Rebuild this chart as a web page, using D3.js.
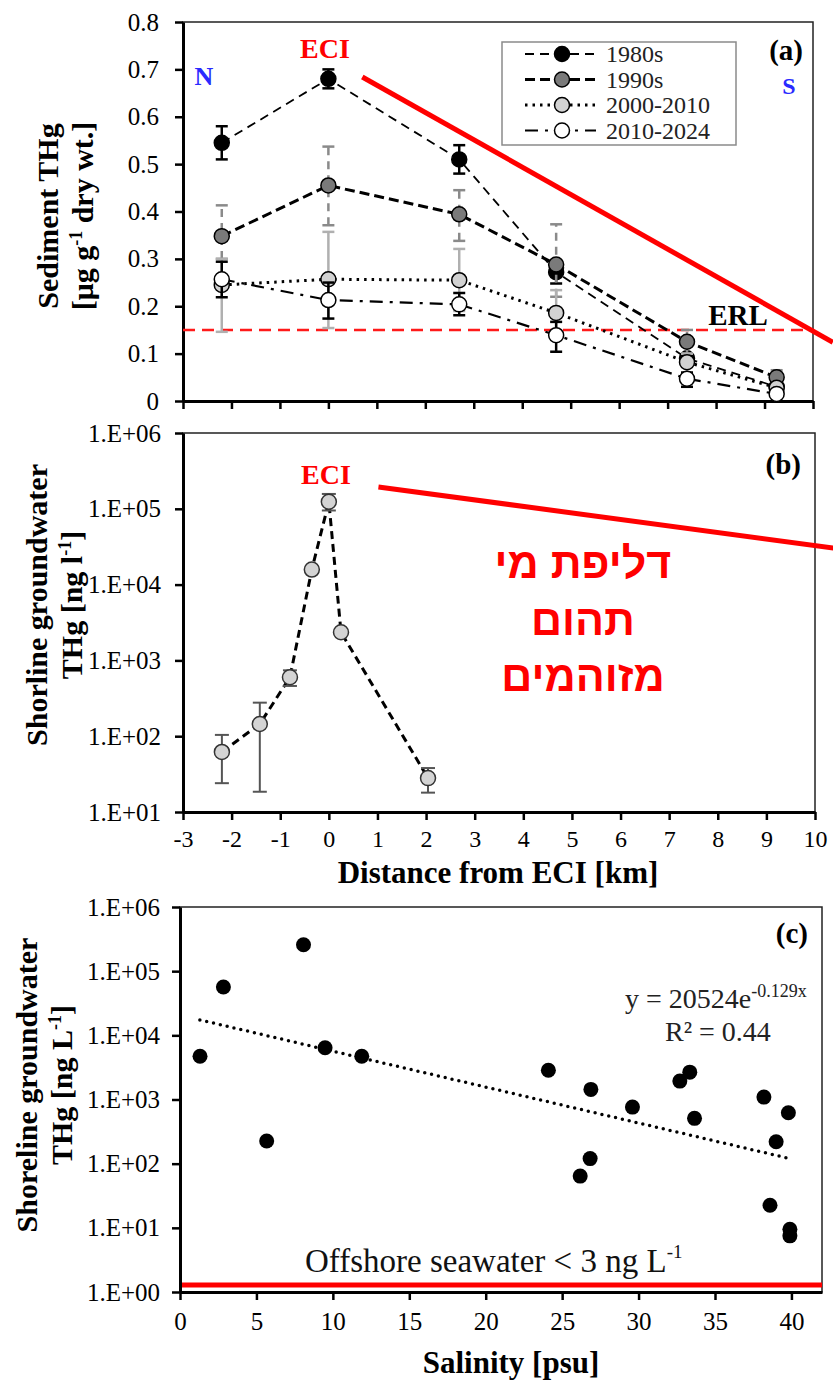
<!DOCTYPE html>
<html>
<head>
<meta charset="utf-8">
<script src="https://cdn.jsdelivr.net/npm/d3@7"></script>
<style>
body { margin: 0; background: #fff; }
svg { display: block; font-family: "Liberation Serif", "Times New Roman", serif; }
</style>
</head>
<body>
<svg id="chart" width="833" height="1383"></svg>
<script>
'use strict';
// ---- panel (a): sediment THg vs distance
const sedDist = [-2.2, 0, 2.7, 4.7, 7.4, 9.25];
const sed1980 = [0.545, 0.68, 0.51, 0.272, 0.09, 0.03];
const sed1980Lo = [0.51, 0.66, 0.48, 0.248, 0.08, 0.02];
const sed1980Hi = [0.58, 0.70, 0.54, 0.295, 0.10, 0.04];
const sed1990 = [0.348, 0.455, 0.394, 0.288, 0.125, 0.05];
const sed1990Lo = [0.30, 0.371, 0.338, 0.22, 0.10, 0.04];
const sed1990Hi = [0.413, 0.537, 0.445, 0.373, 0.15, 0.065];
const sed2000 = [0.245, 0.257, 0.255, 0.186, 0.082, 0.028];
const sed2000Lo = [0.146, 0.154, 0.19, 0.14, 0.06, 0.02];
const sed2000Hi = [0.30, 0.357, 0.321, 0.234, 0.10, 0.035];
const sed2010 = [0.257, 0.213, 0.204, 0.139, 0.047, 0.015];
const sed2010Lo = [0.219, 0.174, 0.181, 0.104, 0.03, 0.01];
const sed2010Hi = [0.294, 0.25, 0.228, 0.167, 0.06, 0.02];
const sedTicks = [0, 0.1, 0.2, 0.3, 0.4, 0.5, 0.6, 0.7, 0.8];
const erl = 0.15;

// ---- panel (b): shoreline groundwater vs distance
const gwDist = [-2.2, -1.42, -0.8, -0.35, 0, 0.25, 2.04];
const gwThg = [62, 145, 600, 15800, 124000, 2350, 28];
const gwLo = [24, 18.5, 460, 15800, 95000, 2350, 18];
const gwHi = [104, 277, 740, 15800, 157000, 2350, 38];
const distTicks = [-3, -2, -1, 0, 1, 2, 3, 4, 5, 6, 7, 8, 9, 10];
const logTicksB = [1e1, 1e2, 1e3, 1e4, 1e5, 1e6];

// ---- panel (c): shoreline groundwater vs salinity
const salinity = [1.31, 2.84, 8.08, 5.67, 9.49, 11.89, 24.1, 26.88, 26.83, 26.18, 29.6, 32.7, 33.35, 33.66, 38.2, 39.8, 39.0, 38.6, 39.9, 39.9];
const salThg = [4730, 56800, 258000, 225, 6390, 4730, 2860, 1437, 120, 64, 762, 1935, 2670, 508, 1090, 623, 220, 22.5, 9.5, 7.5];
const trendX = [1.3, 39.9];
const trendY = [17400, 120];
const salTicks = [0, 5, 10, 15, 20, 25, 30, 35, 40];
const logTicksC = [1e0, 1e1, 1e2, 1e3, 1e4, 1e5, 1e6];
const seawaterLine = 1.28;

const svg = d3.select('#chart');
svg.append('rect').attr('width', 833).attr('height', 1383).attr('fill', '#fff');

let expLabel = d => '1.E+' + String(Math.round(Math.log10(d))).padStart(2, '0');

let drawFrame = (x0, x1, y0, y1) => {
    svg.append('rect').attr('x', x0).attr('y', y0).attr('width', x1 - x0).attr('height', y1 - y0)
        .attr('fill', 'none').attr('stroke', '#222').attr('stroke-width', 1.5);
};

let styleAxis = (g, size) => {
    g.select('.domain').attr('stroke', '#000').attr('stroke-width', 3);
    g.selectAll('.tick line').attr('stroke', '#000').attr('stroke-width', 2.5);
    g.selectAll('.tick text').attr('fill', '#000').attr('font-size', size)
        .attr('font-family', '"Liberation Serif", "Times New Roman", serif');
};

// rotated two-line axis title; parts are plain strings or {up: '...'} superscripts
let yTitle = (cx, cy, lines, gap) => {
    let t = svg.append('g').attr('transform', `translate(${cx},${cy}) rotate(-90)`);
    lines.forEach((parts, i) => {
        let txt = t.append('text').attr('x', 0).attr('y', i * gap).attr('text-anchor', 'middle')
            .attr('font-size', 30).attr('font-weight', 'bold');
        let back = 0;
        parts.forEach(p => {
            if (typeof p === 'object') {
                txt.append('tspan').attr('font-size', 18).attr('dy', -11).text(p.up);
                back = 11;
            } else {
                txt.append('tspan').attr('dy', back).text(p);
                back = 0;
            }
        });
    });
};

// ================= panel (a)
const xA = d3.scaleLinear().domain([-3, 10]).range([183, 813]);
const yA = d3.scaleLinear().domain([0, 0.8]).range([401, 22]);

drawFrame(183, 813, 22, 401);

let axA = svg.append('g').attr('transform', 'translate(0,401)')
    .call(d3.axisBottom(xA).tickValues(distTicks).tickSize(8).tickSizeOuter(0).tickFormat(''));
styleAxis(axA, 25);
let ayA = svg.append('g').attr('transform', 'translate(183,0)')
    .call(d3.axisLeft(yA).tickValues(sedTicks).tickSize(8).tickSizeOuter(0).tickPadding(16)
        .tickFormat(d => d === 0 ? '0' : d3.format('.1f')(d)));
styleAxis(ayA, 25);

// ERL line
svg.append('line').attr('x1', xA(-3)).attr('x2', xA(10)).attr('y1', yA(erl)).attr('y2', yA(erl))
    .attr('stroke', '#ff1a1a').attr('stroke-width', 2.5).attr('stroke-dasharray', '12,7');

const sedSeries = [
    { name: '1980s', v: sed1980, lo: sed1980Lo, hi: sed1980Hi, fill: '#000', dash: '9,6', w: 1.8, err: '#000', errDash: null },
    { name: '1990s', v: sed1990, lo: sed1990Lo, hi: sed1990Hi, fill: '#7a7a7a', dash: '10,5', w: 3, err: '#8a8a8a', errDash: '8,6' },
    { name: '2000-2010', v: sed2000, lo: sed2000Lo, hi: sed2000Hi, fill: '#d2d2d2', dash: '2.5,5', w: 3, err: '#b0b0b0', errDash: null },
    { name: '2010-2024', v: sed2010, lo: sed2010Lo, hi: sed2010Hi, fill: '#fff', dash: '13,7,3,7', w: 2.2, err: '#000', errDash: null }
];

let lineA = d3.line().x((d, i) => xA(sedDist[i])).y(d => yA(d));

for (let s of sedSeries) {
    svg.append('path').datum(s.v).attr('d', lineA).attr('fill', 'none')
        .attr('stroke', '#000').attr('stroke-width', s.w).attr('stroke-dasharray', s.dash);
}
for (let s of sedSeries) {
    let eg = svg.append('g');
    sedDist.forEach((d, i) => {
        let cx = xA(d);
        eg.append('line').attr('x1', cx).attr('x2', cx).attr('y1', yA(s.lo[i])).attr('y2', yA(s.hi[i]))
            .attr('stroke', s.err).attr('stroke-width', 2.5).attr('stroke-dasharray', s.errDash);
        [s.lo[i], s.hi[i]].forEach(e => {
            eg.append('line').attr('x1', cx - 6).attr('x2', cx + 6).attr('y1', yA(e)).attr('y2', yA(e))
                .attr('stroke', s.err).attr('stroke-width', 2.5);
        });
    });
    svg.append('g').selectAll('circle').data(s.v).join('circle')
        .attr('cx', (d, i) => xA(sedDist[i])).attr('cy', d => yA(d)).attr('r', 7.5)
        .attr('fill', s.fill).attr('stroke', '#000').attr('stroke-width', 1.5);
}

// legend
svg.append('rect').attr('x', 502).attr('y', 42).attr('width', 234).attr('height', 103)
    .attr('fill', '#fff').attr('stroke', '#8a8a8a').attr('stroke-width', 1.5);
sedSeries.forEach((s, i) => {
    let ly = 54 + i * 25.5;
    svg.append('line').attr('x1', 525).attr('x2', 596).attr('y1', ly).attr('y2', ly)
        .attr('stroke', '#000').attr('stroke-width', s.w).attr('stroke-dasharray', s.dash);
    svg.append('circle').attr('cx', 562).attr('cy', ly).attr('r', 7.5)
        .attr('fill', s.fill).attr('stroke', '#000').attr('stroke-width', 1.5);
    svg.append('text').attr('x', 606).attr('y', ly + 8).attr('font-size', 24).attr('fill', '#222').text(s.name);
});

svg.append('text').attr('x', 803).attr('y', 60).attr('text-anchor', 'end').attr('font-size', 29)
    .attr('font-weight', 'bold').text('(a)');
svg.append('text').attr('x', 325).attr('y', 58).attr('text-anchor', 'middle').attr('font-size', 28)
    .attr('font-weight', 'bold').attr('fill', '#ff0000').text('ECI');
svg.append('text').attr('x', 204).attr('y', 85).attr('text-anchor', 'middle').attr('font-size', 26)
    .attr('font-weight', 'bold').attr('fill', '#2a2aff').text('N');
svg.append('text').attr('x', 789).attr('y', 94).attr('text-anchor', 'middle').attr('font-size', 24)
    .attr('font-weight', 'bold').attr('fill', '#2a2aff').text('S');
svg.append('text').attr('x', 738).attr('y', 325).attr('text-anchor', 'middle').attr('font-size', 29)
    .attr('font-weight', 'bold').text('ERL');

yTitle(58, 216, [['Sediment THg'], ['[μg g', { up: '-1' }, ' dry wt.]']], 35);

// red annotation line (a)
const annotA = [[0.7, 0.684], [10.41, 0.124]];
svg.append('line').attr('x1', xA(annotA[0][0])).attr('y1', yA(annotA[0][1]))
    .attr('x2', xA(annotA[1][0])).attr('y2', yA(annotA[1][1]))
    .attr('stroke', '#ff0000').attr('stroke-width', 5);

// ================= panel (b)
const xB = d3.scaleLinear().domain([-3, 10]).range([183, 815]);
const yB = d3.scaleLog().domain([1e1, 1e6]).range([812, 433]);

drawFrame(183, 815, 433, 812);
let axB = svg.append('g').attr('transform', 'translate(0,812)')
    .call(d3.axisBottom(xB).tickValues(distTicks).tickSize(8).tickSizeOuter(0).tickPadding(10)
        .tickFormat(d => String(d)));
styleAxis(axB, 24);
let ayB = svg.append('g').attr('transform', 'translate(183,0)')
    .call(d3.axisLeft(yB).tickValues(logTicksB).tickSize(8).tickSizeOuter(0).tickPadding(14).tickFormat(expLabel));
styleAxis(ayB, 25);

let lineB = d3.line().x((d, i) => xB(gwDist[i])).y(d => yB(d));
svg.append('path').datum(gwThg).attr('d', lineB).attr('fill', 'none')
    .attr('stroke', '#000').attr('stroke-width', 3).attr('stroke-dasharray', '8,5');
gwDist.forEach((d, i) => {
    if (gwLo[i] === gwHi[i]) return;
    let cx = xB(d);
    svg.append('line').attr('x1', cx).attr('x2', cx).attr('y1', yB(gwLo[i])).attr('y2', yB(gwHi[i]))
        .attr('stroke', '#555').attr('stroke-width', 2);
    [gwLo[i], gwHi[i]].forEach(e => {
        svg.append('line').attr('x1', cx - 7).attr('x2', cx + 7).attr('y1', yB(e)).attr('y2', yB(e))
            .attr('stroke', '#555').attr('stroke-width', 2);
    });
});
svg.append('g').selectAll('circle').data(gwThg).join('circle')
    .attr('cx', (d, i) => xB(gwDist[i])).attr('cy', d => yB(d)).attr('r', 7.5)
    .attr('fill', '#d4d4d4').attr('stroke', '#333').attr('stroke-width', 1.5);

svg.append('text').attr('x', 801).attr('y', 474).attr('text-anchor', 'end').attr('font-size', 29)
    .attr('font-weight', 'bold').text('(b)');
svg.append('text').attr('x', 326).attr('y', 484).attr('text-anchor', 'middle').attr('font-size', 28)
    .attr('font-weight', 'bold').attr('fill', '#ff0000').text('ECI');

const annotB = [[1.02, 194000], [10.38, 30400]];
svg.append('line').attr('x1', xB(annotB[0][0])).attr('y1', yB(annotB[0][1]))
    .attr('x2', xB(annotB[1][0])).attr('y2', yB(annotB[1][1]))
    .attr('stroke', '#ff0000').attr('stroke-width', 5);

const hebrew = ['דליפת מי', 'תהום', 'מזוהמים'];
hebrew.forEach((h, i) => {
    svg.append('text').attr('x', 583).attr('y', 578 + i * 56.5).attr('text-anchor', 'middle')
        .attr('direction', 'rtl').attr('font-family', '"Liberation Sans", "DejaVu Sans", Arial, sans-serif')
        .attr('font-size', 43).attr('font-weight', 'bold').attr('fill', '#ff0000').text(h);
});

svg.append('text').attr('x', 498).attr('y', 883).attr('text-anchor', 'middle').attr('font-size', 31)
    .attr('font-weight', 'bold').text('Distance from ECI [km]');

yTitle(47, 605, [['Shorline groundwater'], ['THg [ng l', { up: '-1' }, ']']], 35);

// ================= panel (c)
const xC = d3.scaleLinear().domain([0, 42]).range([180, 822]);
const yC = d3.scaleLog().domain([1e0, 1e6]).range([1292, 907]);

drawFrame(180, 822, 907, 1292);

svg.append('line').attr('x1', xC(0)).attr('x2', xC(42)).attr('y1', yC(seawaterLine)).attr('y2', yC(seawaterLine))
    .attr('stroke', '#ff0000').attr('stroke-width', 5);

let axC = svg.append('g').attr('transform', 'translate(0,1292)')
    .call(d3.axisBottom(xC).tickValues(salTicks).tickSize(8).tickSizeOuter(0).tickPadding(12)
        .tickFormat(d => String(d)));
styleAxis(axC, 25);
let ayC = svg.append('g').attr('transform', 'translate(180,0)')
    .call(d3.axisLeft(yC).tickValues(logTicksC).tickSize(8).tickSizeOuter(0).tickPadding(12).tickFormat(expLabel));
styleAxis(ayC, 25);

let trend = d3.line().x((d, i) => xC(trendX[i])).y(d => yC(d));
svg.append('path').datum(trendY).attr('d', trend).attr('fill', 'none')
    .attr('stroke', '#000').attr('stroke-width', 3.5).attr('stroke-dasharray', '0,7')
    .attr('stroke-linecap', 'round');

svg.append('g').selectAll('circle').data(salThg).join('circle')
    .attr('cx', (d, i) => xC(salinity[i])).attr('cy', d => yC(d)).attr('r', 7.5).attr('fill', '#000');

svg.append('text').attr('x', 808).attr('y', 943).attr('text-anchor', 'end').attr('font-size', 29)
    .attr('font-weight', 'bold').text('(c)');

let eq = svg.append('text').attr('x', 625).attr('y', 1008).attr('font-size', 28).attr('fill', '#222');
eq.append('tspan').text('y = 20524e');
eq.append('tspan').attr('font-size', 18).attr('dy', -11).text('-0.129x');
svg.append('text').attr('x', 665).attr('y', 1041).attr('font-size', 28).attr('fill', '#222').text('R² = 0.44');

let off = svg.append('text').attr('x', 305).attr('y', 1272).attr('font-size', 33).attr('fill', '#111');
off.append('tspan').text('Offshore seawater < 3 ng L');
off.append('tspan').attr('font-size', 19).attr('dy', -14).text('-1');

svg.append('text').attr('x', 511).attr('y', 1373).attr('text-anchor', 'middle').attr('font-size', 31)
    .attr('font-weight', 'bold').text('Salinity [psu]');

yTitle(37, 1085, [['Shoreline groundwater'], ['THg [ng L', { up: '-1' }, ']']], 35);
</script>
</body>
</html>
